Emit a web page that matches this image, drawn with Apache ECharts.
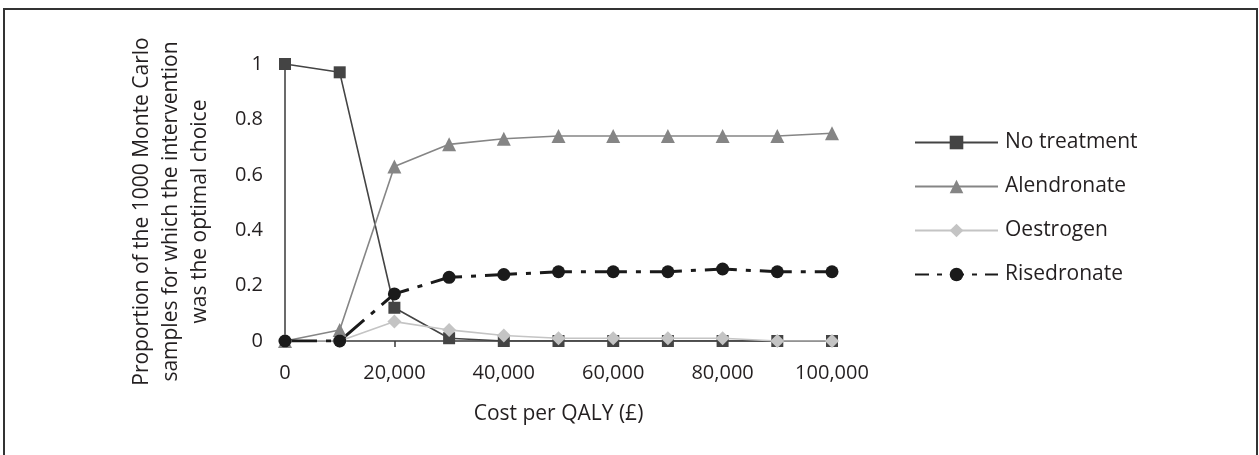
<!DOCTYPE html>
<html>
<head>
<meta charset="utf-8">
<title>Cost-effectiveness acceptability curves</title>
<script src="https://cdn.jsdelivr.net/npm/echarts@6/dist/echarts.min.js"></script>
<style>
  html, body { margin: 0; padding: 0; background: #ffffff; }
  #chart { width: 1259px; height: 455px; }
</style>
</head>
<body>
<div id="chart"></div>
<script>
// Willingness-to-pay thresholds (£ per QALY)
const costPerQaly = [0, 10000, 20000, 30000, 40000, 50000, 60000, 70000, 80000, 90000, 100000];

// Proportion of the 1000 Monte Carlo samples in which each option was optimal
const noTreatment = [1, 0.97, 0.12, 0.01, 0, 0, 0, 0, 0, 0, 0];
const alendronate = [0, 0.04, 0.63, 0.71, 0.73, 0.74, 0.74, 0.74, 0.74, 0.74, 0.75];
const oestrogen   = [0, 0, 0.07, 0.04, 0.02, 0.01, 0.01, 0.01, 0.01, 0, 0];
const risedronate = [0, 0, 0.17, 0.23, 0.24, 0.25, 0.25, 0.25, 0.26, 0.25, 0.25];

const seriesNames = ['No treatment', 'Alendronate', 'Oestrogen', 'Risedronate'];
const yTickLabels = { 0: '0', 0.2: '0.2', 0.4: '0.4', 0.6: '0.6', 0.8: '0.8', 1: '1' };

const FONT = '"Open Sans", Lato, sans-serif';
const FS_NAME = 21;   // axis titles and legend
const FS_TICK = 20;   // tick labels
const TEXT = '#231f20';
const AXIS = '#3a3a3a';

const pairs = vals => costPerQaly.map((c, i) => [c, vals[i]]);

const chart = echarts.init(document.getElementById('chart'), null, { renderer: 'canvas' });

chart.setOption({
  animation: false,
  backgroundColor: '#ffffff',
  textStyle: { fontFamily: FONT, color: TEXT },
  graphic: [{
    type: 'rect',
    shape: { x: 4, y: 9, width: 1253, height: 460 },
    style: { fill: 'none', stroke: '#333333', lineWidth: 2 },
    silent: true
  }],
  grid: { left: 285, right: 427, top: 64, bottom: 114 },
  xAxis: {
    type: 'value',
    min: 0,
    max: 100000,
    interval: 20000,
    name: 'Cost per QALY (£)',
    nameLocation: 'middle',
    nameGap: 63,
    nameTextStyle: { fontFamily: FONT, fontSize: FS_NAME, color: TEXT },
    axisLine: { show: true, lineStyle: { color: AXIS, width: 1.5 } },
    axisTick: { show: true, length: 6, lineStyle: { color: AXIS, width: 1.5 } },
    axisLabel: {
      fontFamily: FONT, fontSize: FS_TICK, color: TEXT, margin: 22,
      formatter: v => v.toLocaleString('en-GB')
    },
    splitLine: { show: false }
  },
  yAxis: {
    type: 'value',
    min: 0,
    max: 1,
    interval: 0.2,
    name: 'Proportion of the 1000 Monte Carlo\nsamples for which the intervention\nwas the optimal choice',
    nameLocation: 'middle',
    nameRotate: 90,
    nameGap: 70,
    nameTextStyle: {
      fontFamily: FONT, fontSize: FS_NAME, color: TEXT, lineHeight: 29, align: 'center',
      padding: [0, 18, 0, 0]
    },
    axisLine: { show: true, lineStyle: { color: AXIS, width: 1.5 } },
    axisTick: { show: false },
    axisLabel: {
      fontFamily: FONT, fontSize: FS_TICK, color: TEXT, margin: 22,
      formatter: v => yTickLabels[Math.round(v * 10) / 10] ?? String(v)
    },
    splitLine: { show: false }
  },
  legend: {
    orient: 'vertical',
    left: 914,
    top: 132,
    padding: 0,
    itemWidth: 83,
    itemHeight: 17,
    itemGap: 23,
    textStyle: { fontFamily: FONT, fontSize: FS_NAME, color: TEXT, padding: [0, 0, 0, 2] },
    data: [
      { name: seriesNames[0] },
      { name: seriesNames[1] },
      { name: seriesNames[2] },
      { name: seriesNames[3], lineStyle: { type: [14, 8, 5, 8] } }
    ]
  },
  series: [
    {
      name: seriesNames[0],
      type: 'line',
      data: pairs(noTreatment),
      symbol: 'rect',
      symbolSize: 12,
      color: '#444444',
      lineStyle: { color: '#444444', width: 1.6 },
      itemStyle: { color: '#444444' }
    },
    {
      name: seriesNames[1],
      type: 'line',
      data: pairs(alendronate),
      symbol: 'triangle',
      symbolSize: 14,
      color: '#858585',
      lineStyle: { color: '#858585', width: 1.6 },
      itemStyle: { color: '#858585' }
    },
    {
      name: seriesNames[2],
      type: 'line',
      data: pairs(oestrogen),
      symbol: 'diamond',
      symbolSize: 14,
      color: '#c4c4c4',
      lineStyle: { color: '#c4c4c4', width: 1.6 },
      itemStyle: { color: '#c4c4c4' }
    },
    {
      name: seriesNames[3],
      type: 'line',
      data: pairs(risedronate),
      symbol: 'circle',
      symbolSize: 13,
      color: '#1a1a1a',
      lineStyle: { color: '#1a1a1a', width: 3, type: [32, 9, 5, 9] },
      itemStyle: { color: '#1a1a1a' }
    }
  ]
});
</script>
</body>
</html>
